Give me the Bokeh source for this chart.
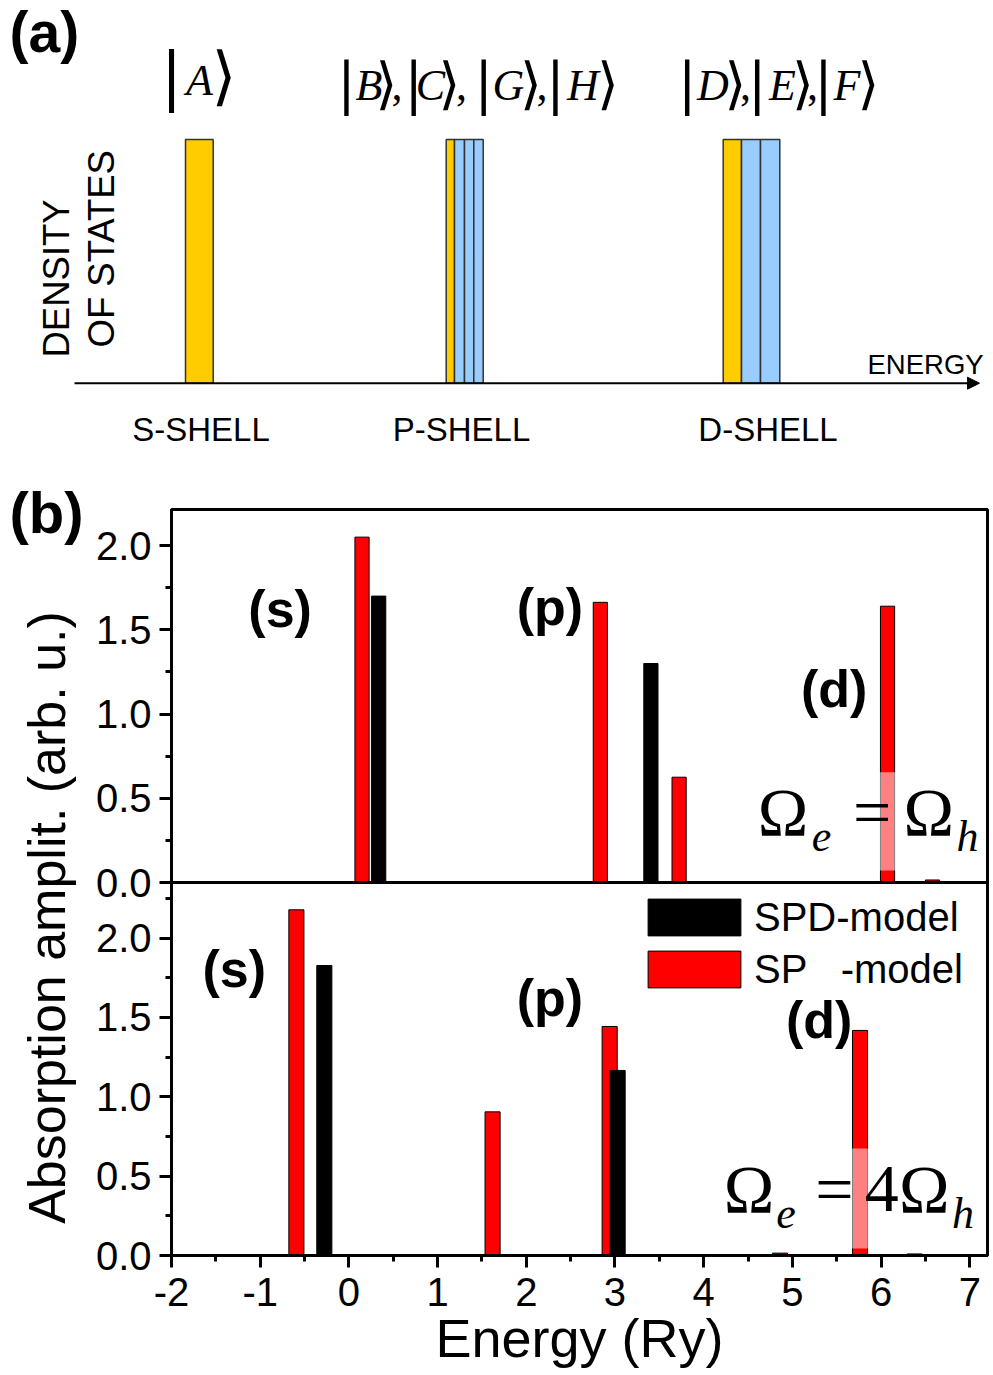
import math
from bokeh.plotting import figure
from bokeh.models import (Range1d, FixedTicker, Label, Span, Arrow, NormalHead,
                          BoxAnnotation, Legend, LegendItem, ColumnDataSource)
from bokeh.layouts import column, row
from bokeh.transform import factor_cmap
from bokeh.embed import file_html
from bokeh.resources import INLINE

# ---------------- data ----------------
# panel (a): schematic density of states (arbitrary energy units)
state_left = [18.50, 44.57, 45.40, 46.40, 47.33, 72.27, 74.10, 76.00]
state_right = [21.27, 45.40, 46.40, 47.33, 48.27, 74.10, 76.00, 77.93]
state_dos = [1.0, 1.0, 1.0, 1.0, 1.0, 1.0, 1.0, 1.0]
state_kind = ["bright", "bright", "dark", "dark", "dark", "bright", "dark", "dark"]
shell_labels = ["S-SHELL", "P-SHELL", "D-SHELL"]
shell_label_pos = [20.05, 46.10, 76.75]

# panel (b): absorption amplitudes, energy in Ry
upper_sp_x = [0.148, 2.835, 3.723, 6.073, 6.58]
upper_sp_amp = [2.05, 1.663, 0.625, 1.64, 0.015]
upper_spd_x = [0.336, 3.405]
upper_spd_amp = [1.70, 1.30]
lower_sp_x = [-0.592, 1.62, 2.94, 4.86, 5.763, 6.378]
lower_sp_amp = [2.178, 0.905, 1.443, 0.015, 1.418, 0.010]
lower_spd_x = [-0.277, 3.03]
lower_spd_amp = [1.827, 1.166]

x_ticks = [-2, -1, 0, 1, 2, 3, 4, 5, 6, 7]
x_minor = [-1.5, -0.5, 0.5, 1.5, 2.5, 3.5, 4.5, 5.5, 6.5]
y_ticks = [0.0, 0.5, 1.0, 1.5, 2.0]
y_minor_upper = [0.25, 0.75, 1.25, 1.75]
y_minor_lower = [0.25, 0.75, 1.25, 1.75, 2.25]

SANS = "Liberation Sans"
SERIF = "Liberation Serif"
K = 0.39  # empirical baseline correction (fraction of font size)

def fs(size):
    return float(size.replace("px", ""))

# ---------------- panel (a) ----------------
FA_H = 470
fa = figure(width=993, height=FA_H, x_range=Range1d(0, 99.3),
            y_range=Range1d((382.7 - FA_H) / 243.7, 382.7 / 243.7),
            x_axis_location=None, y_axis_location=None, toolbar_location=None,
            output_backend="svg", min_border=0, min_border_left=0, min_border_right=0,
            min_border_top=0, min_border_bottom=0, outline_line_color=None, frame_align=False)
fa.grid.visible = False

def ax(px):
    return px / 10.0

def ay(py):
    return (382.7 - py) / 243.7

src = ColumnDataSource(dict(left=state_left, right=state_right, top=state_dos, kind=state_kind))
fa.quad(left="left", right="right", bottom=0, top="top", source=src,
        fill_color=factor_cmap("kind", ["#FFCC00", "#99CCFF"], ["bright", "dark"]),
        line_color="#333333", line_width=1.5)
fa.add_layout(Arrow(end=NormalHead(size=12, fill_color="black", line_color="black"),
                    x_start=ax(74), y_start=0, x_end=ax(979), y_end=0,
                    line_width=2, line_color="black"))

def lab_a(text, px, py, size, align="left", style="normal", font=SANS, angle=0.0):
    if angle == 0.0:
        py = py - K * fs(size)
    else:
        px = px - K * fs(size)
    fa.add_layout(Label(x=ax(px), y=ay(py), text=text, text_font=font, text_font_size=size,
                        text_font_style=style, text_align=align, text_baseline="alphabetic",
                        angle=angle, text_color="black"))

lab_a("(a)", 9, 54, "57px", style="bold")
lab_a("DENSITY", 70, 357, "36.5px", angle=math.pi / 2)
lab_a("OF STATES", 115, 347, "36.5px", angle=math.pi / 2)
for name, pos in zip(shell_labels, shell_label_pos):
    lab_a(name, pos * 10, 442, "33px", align="center")
lab_a("ENERGY", 867, 375, "27.5px")

# ket labels, built from pieces: bar, italic letter, angle bracket, comma
BR_FONT = "DejaVu Serif"
pieces = [
    ("|", 171, 100, "barA"), ("A", 199, 96.7, "let"), ("\u27e9", 223.5, 100, "barA"),
    ("|", 346, 104.8, "bar"), ("B", 368.5, 101.7, "let"), ("\u27e9", 386, 104.8, "bar"), (",", 396.5, 101.7, "com"),
    ("|", 413.3, 104.8, "bar"), ("C", 430, 101.7, "let"), ("\u27e9", 449, 104.8, "bar"), (",", 461, 101.7, "com"),
    ("|", 483.3, 104.8, "bar"), ("G", 508, 101.7, "let"), ("\u27e9", 530.5, 104.8, "bar"), (",", 541.5, 101.7, "com"),
    ("|", 555, 104.8, "bar"), ("H", 582.5, 101.7, "let"), ("\u27e9", 607.5, 104.8, "bar"),
    ("|", 686.7, 104.8, "bar"), ("D", 712.5, 101.7, "let"), ("\u27e9", 735, 104.8, "bar"), (",", 745, 101.7, "com"),
    ("|", 756.7, 104.8, "bar"), ("E", 782, 101.7, "let"), ("\u27e9", 802.5, 104.8, "bar"), (",", 812, 101.7, "com"),
    ("|", 823, 104.8, "bar"), ("F", 846.5, 101.7, "let"), ("\u27e9", 868, 104.8, "bar"),
]
for t, cx, base, kind in pieces:
    if kind == "barA":
        lab_a(t, cx, base, "64px", align="center", font=BR_FONT)
    elif kind == "bar":
        lab_a(t, cx, base, "56px", align="center", font=BR_FONT)
    elif kind == "let":
        lab_a(t, cx, base, "44px", align="center", style="italic", font=SERIF)
    else:
        lab_a(t, cx, base, "44px", align="center", font=SERIF)

# ---------------- panel (b): label strip on the left ----------------
LAB_W = 92
FB_H = 1375 - FA_H
fl = figure(width=LAB_W, height=FB_H, x_range=Range1d(0, LAB_W), y_range=Range1d(1375, FA_H),
            x_axis_location=None, y_axis_location=None, toolbar_location=None,
            output_backend="svg", min_border=0, min_border_left=0, min_border_right=0,
            min_border_top=0, min_border_bottom=0, outline_line_color=None, frame_align=False)
fl.grid.visible = False
fl.add_layout(Label(x=9, y=535 - K * 58, text="(b)", text_font=SANS, text_font_size="58px",
                    text_font_style="bold", text_align="left", text_baseline="alphabetic",
                    text_color="black"))
fl.add_layout(Label(x=67 - K * 52, y=917, text="Absorption amplit. (arb. u.)", text_font=SANS,
                    text_font_size="52px", text_align="center", text_baseline="alphabetic",
                    angle=math.pi / 2, text_color="black"))

# ---------------- panel (b): plots ----------------
UP = (-2.214, 2.214)
LO = (0.0, 4.70)
fb = figure(width=993 - LAB_W, height=FB_H, x_range=Range1d(-2, 7.2), y_range=Range1d(*UP),
            toolbar_location=None, output_backend="svg",
            min_border_left=169 - LAB_W, min_border_right=6, min_border_top=509 - FA_H,
            min_border_bottom=120,
            outline_line_color="black", outline_line_width=3, frame_align=False)
fb.extra_y_ranges = {"lower": Range1d(*LO)}
fb.grid.visible = False

def lo_to_up(v):
    return UP[0] + (v - LO[0]) * (UP[1] - UP[0]) / (LO[1] - LO[0])

def bx(px):
    return -2 + (px - 169) * 9.2 / 818

def byu(py):
    return UP[1] - (py - 509) * (UP[1] - UP[0]) / 746

def byl(py):
    return LO[1] - (py - 509) * (LO[1] - LO[0]) / 746

# axes
xa = fb.xaxis[0]
xa.ticker = FixedTicker(ticks=x_ticks, minor_ticks=x_minor)
xa.major_label_overrides = {t: str(t) for t in x_ticks}
xa.axis_label = "Energy (Ry)"
xa.axis_label_text_font = SANS
xa.axis_label_text_font_size = "54px"
xa.axis_label_text_font_style = "normal"
xa.axis_label_text_color = "black"
xa.axis_label_standoff = -1
ya = fb.yaxis[0]
maj = y_ticks + [lo_to_up(v) for v in y_ticks]
mnr = y_minor_upper + [lo_to_up(v) for v in y_minor_lower]
ya.ticker = FixedTicker(ticks=maj, minor_ticks=mnr)
ov = {}
for v in y_ticks:
    ov[v] = "%.1f" % v
    ov[lo_to_up(v)] = "%.1f" % v
ya.major_label_overrides = ov
for a in (xa, ya):
    a.axis_line_width = 3
    a.major_tick_line_width = 3
    a.minor_tick_line_width = 3
    a.major_tick_out = 12
    a.major_tick_in = 0
    a.minor_tick_out = 6
    a.minor_tick_in = 0
    a.major_label_text_font = SANS
    a.major_label_text_font_size = "40px"
    a.major_label_text_color = "black"
xa.major_label_standoff = 10
ya.major_label_standoff = 8

fb.add_layout(Span(location=0, dimension="width", line_color="black", line_width=3))

# bars
BW_U = 0.16
BW_L = 0.17
r_up_sp = fb.vbar(x=upper_sp_x, top=upper_sp_amp, bottom=0, width=BW_U,
                  fill_color="#FF0000", line_color="black", line_width=1)
r_up_spd = fb.vbar(x=upper_spd_x, top=upper_spd_amp, bottom=0, width=BW_U,
                   fill_color="black", line_color="black", line_width=1)
r_lo_sp = fb.vbar(x=lower_sp_x, top=lower_sp_amp, bottom=0, width=BW_L, y_range_name="lower",
                  fill_color="#FF0000", line_color="black", line_width=1)
r_lo_spd = fb.vbar(x=lower_spd_x, top=lower_spd_amp, bottom=0, width=BW_L, y_range_name="lower",
                   fill_color="black", line_color="black", line_width=1)

# translucent label boxes
fb.add_layout(BoxAnnotation(left=bx(752), right=bx(982), top=byu(771.7), bottom=byu(870),
                            fill_color="white", fill_alpha=0.5, line_color=None))
fb.add_layout(BoxAnnotation(left=bx(716), right=bx(980), top=byl(1148), bottom=byl(1248),
                            y_range_name="lower", fill_color="white", fill_alpha=0.5, line_color=None))

def lab_b(text, px, py, size, lower=False, align="left", style="normal", font=SANS):
    kw = dict(y_range_name="lower") if lower else {}
    py = py - K * fs(size)
    y = byl(py) if lower else byu(py)
    fb.add_layout(Label(x=bx(px), y=y, text=text, text_font=font, text_font_size=size,
                        text_font_style=style, text_align=align, text_baseline="alphabetic",
                        text_color="black", **kw))

for t, px, py, low in [("(s)", 246, 629, False), ("(p)", 515, 627, False), ("(d)", 800, 709, False),
                       ("(s)", 200, 989, True), ("(p)", 515, 1018, True), ("(d)", 785, 1040, True)]:
    lab_b(t, px, py, "52px", lower=low, style="bold")

# Omega labels
for t, cx, py, kind in [("\u03a9", 782, 838, "big"), ("e", 820.5, 853, "sub"), ("=", 871.5, 838, "big"),
                        ("\u03a9", 928, 838, "big"), ("h", 967, 853, "sub")]:
    if kind == "big":
        lab_b(t, cx, py, "68px", align="center", font=SERIF)
    else:
        lab_b(t, cx, py, "44px", align="center", font=SERIF, style="italic")
for t, cx, py, kind in [("\u03a9", 748, 1215, "big"), ("e", 785, 1230, "sub"), ("=", 833.5, 1215, "big"),
                        ("4", 881, 1215, "big"), ("\u03a9", 923.5, 1215, "big"), ("h", 962.5, 1230, "sub")]:
    if kind == "big":
        lab_b(t, cx, py, "68px", lower=True, align="center", font=SERIF)
    else:
        lab_b(t, cx, py, "44px", lower=True, align="center", font=SERIF, style="italic")

legend = Legend(items=[LegendItem(label="SPD-model", renderers=[r_lo_spd]),
                       LegendItem(label="SP\u00a0\u00a0\u00a0-model", renderers=[r_lo_sp])],
                location=(465, 263), orientation="vertical", glyph_width=116, glyph_height=46,
                label_text_font=SANS, label_text_font_size="40px", label_text_color="black",
                label_standoff=2, label_height=46,
                spacing=6, padding=0, margin=0, border_line_color=None, background_fill_alpha=0)
fb.add_layout(legend)

layout = column(fa, row(fl, fb, spacing=0), spacing=0)
open("out.html", "w").write(file_html(layout, INLINE))
